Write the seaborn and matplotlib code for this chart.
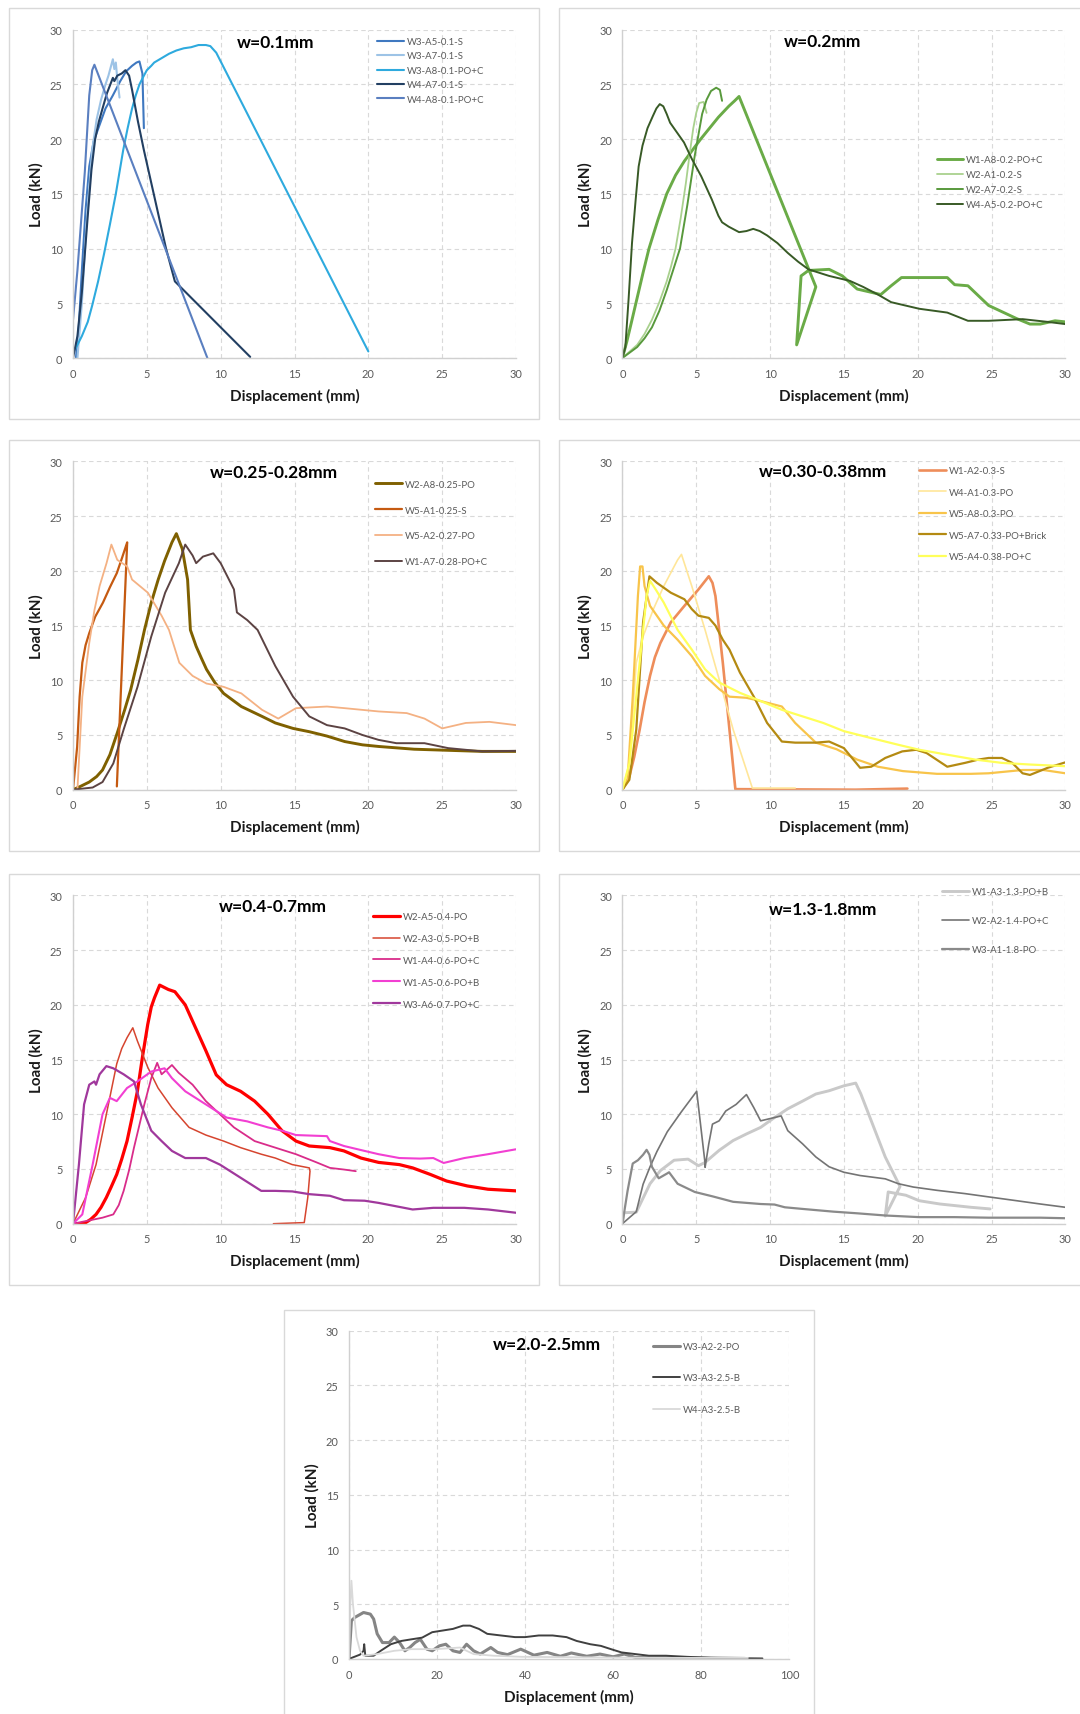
import matplotlib
matplotlib.use("Agg")
import matplotlib.pyplot as plt
from matplotlib.patches import Rectangle
from matplotlib.lines import Line2D
import seaborn as sns

# ---------------- DATA ----------------
# Panel 1: w=0.1mm
p1_w3a5_x = [0.2, 0.4, 0.6, 0.85, 1.1, 1.4, 1.8, 2.2, 2.7, 3.2, 3.6, 4.0, 4.3, 4.5, 4.7, 4.8]
p1_w3a5_y = [0, 3, 8, 13.5, 17.5, 19.8, 21.3, 22.8, 24, 25.3, 26.2, 26.7, 27.0, 27.1, 26, 21]
p1_w3a7_x = [0.3, 0.6, 0.9, 1.3, 1.6, 1.9, 2.2, 2.4, 2.7, 2.8, 2.9, 3.0, 3.15]
p1_w3a7_y = [0, 5, 12, 19, 21.8, 23.6, 25.0, 25.8, 27.3, 26.4, 27.0, 25.5, 23.8]
p1_w3a8_x = [0, 0.3, 0.6, 1.0, 1.3, 1.7, 2.1, 2.5, 2.9, 3.2, 3.4, 3.7, 4.0, 4.25, 4.5, 4.8, 5.0,
             5.3, 5.5, 6.0, 6.5, 7.0, 7.5, 8.0, 8.5, 9.0, 9.3, 9.7, 20.0]
p1_w3a8_y = [0.5, 1.2, 2.0, 3.3, 4.8, 7.0, 9.5, 12.2, 15, 17.4, 19.0, 21.0, 22.8, 24.0, 25, 25.8, 26.3,
             26.7, 27.0, 27.4, 27.8, 28.1, 28.3, 28.4, 28.6, 28.6, 28.5, 27.9, 0.6]
p1_w4a7_x = [0, 0.3, 0.6, 1.0, 1.25, 1.5, 1.75, 2.0, 2.3, 2.7, 2.8, 3.0, 3.3, 3.55, 3.8, 4.0, 4.4,
             4.8, 5.3, 5.8, 6.3, 6.9, 12.0]
p1_w4a7_y = [0, 2, 6, 13, 17.2, 20, 21.6, 22.8, 24.2, 25.6, 25.3, 25.8, 26.0, 26.3, 25.8, 24.5, 21.6,
             19, 16, 13, 10, 7, 0.1]
p1_w4a8_x = [0, 0.3, 0.8, 1.1, 1.3, 1.45, 9.1]
p1_w4a8_y = [3.5, 8, 17, 24, 26.3, 26.8, 0]

# Panel 2: w=0.2mm
p2_w1a8_x = [0, 0.3, 0.6, 1.0, 1.4, 1.8, 2.4, 3.0, 3.6, 4.2, 4.8, 5.3, 5.9, 6.5, 7.2, 7.6, 7.9,
             13.1, 11.8, 12.1, 12.6, 14.0, 14.9, 15.9, 17.5, 18.2, 18.9, 20.1, 22.0, 22.5, 23.4,
             24.8, 26.7, 27.6, 28.3, 29.3, 30]
p2_w1a8_y = [0, 1.5, 3.2, 5.5, 7.8, 10, 12.6, 15, 16.7, 18, 19.1, 20, 21, 22, 23, 23.5, 23.9,
             6.5, 1.2, 7.5, 8, 8.1, 7.5, 6.3, 5.8, 6.6, 7.35, 7.35, 7.35, 6.7, 6.6,
             4.8, 3.6, 3.1, 3.1, 3.4, 3.3]
p2_w2a1_x = [0, 1, 1.5, 2, 2.5, 3, 3.3, 3.6, 3.95, 4.3, 4.55, 4.8, 5.0, 5.2, 5.5, 5.7]
p2_w2a1_y = [0, 1.2, 2.2, 3.5, 5.1, 7, 8.4, 10, 12.8, 16, 18.6, 21, 22.4, 23.3, 23.4, 22.4]
p2_w2a7_x = [0, 1, 1.5, 2, 2.5, 3, 3.5, 3.9, 4.4, 4.9, 5.4, 5.7, 6.0, 6.35, 6.6, 6.75]
p2_w2a7_y = [0, 1, 1.8, 2.8, 4.3, 6.2, 8.3, 10, 14, 18.5, 22.3, 23.6, 24.4, 24.7, 24.5, 23.5]
p2_w4a5_x = [0, 0.2, 0.42, 0.65, 0.9, 1.1, 1.36, 1.7, 2.06, 2.3, 2.53, 2.77, 3.0, 3.23, 3.7, 4.17,
             4.7, 5.34, 6.05, 6.5, 6.75, 7.2, 7.9, 8.4, 8.86, 9.3, 9.8, 10.5, 11.2, 11.9, 12.6,
             14.0, 15.4, 16.3, 17.3, 18.2, 20.1, 22.0, 23.4, 24.8, 27.1, 28.8, 30]
p2_w4a5_y = [0, 1, 5.4, 10.5, 14.5, 17.5, 19.4, 21.0, 22.1, 22.8, 23.2, 23.0, 22.3, 21.5, 20.6, 19.7,
             18.2, 16.6, 14.5, 13.0, 12.4, 12.0, 11.5, 11.6, 11.8, 11.6, 11.2, 10.5, 9.6, 8.8, 8.1,
             7.5, 7.05, 6.5, 5.8, 5.1, 4.5, 4.15, 3.4, 3.4, 3.55, 3.3, 3.1]

# Panel 3: w=0.25-0.28mm
p3_w2a8_x = [0, 0.5, 1.1, 1.6, 2.0, 2.5, 3.0, 3.5, 3.9, 4.4, 4.84, 5.3, 5.77, 6.2, 6.7, 7.0, 7.4,
             7.76, 7.95, 8.34, 8.7, 9.04, 9.6, 10.2, 11.4, 12.8, 13.7, 14.9, 16, 17.2, 18.4, 19.6,
             20.7, 23.1, 25.4, 27.7, 30]
p3_w2a8_y = [0, 0.3, 0.7, 1.2, 1.8, 3.2, 5.2, 7.3, 9.1, 11.9, 14.6, 17.1, 19.2, 20.9, 22.6, 23.4, 22,
             19.2, 14.6, 13.1, 12.0, 11, 9.8, 8.8, 7.6, 6.7, 6.1, 5.6, 5.3, 4.9, 4.4, 4.1,
             3.95, 3.7, 3.6, 3.5, 3.5]
p3_w5a1_x = [0, 0.28, 0.45, 0.63, 0.85, 1.1, 1.5, 2.03, 2.5, 2.97, 3.3, 3.62, 3.67, 2.97]
p3_w5a1_y = [0, 3.9, 8.5, 11.6, 13.2, 14.3, 15.8, 17.1, 18.5, 19.8, 21.1, 22.4, 22.6, 0.3]
p3_w5a2_x = [0.3, 0.63, 1.1, 1.45, 1.8, 2.27, 2.6, 3.0, 3.67, 4.0, 5.07, 6.0, 6.5, 7.2, 8.1, 9.04,
             10.2, 11.4, 12.8, 13.9, 15.1, 17.2, 18.4, 20.7, 22.6, 23.8, 25, 26.6, 28.2, 30]
p3_w5a2_y = [0, 8.5, 13.4, 16.4, 18.6, 20.7, 22.4, 21, 20.4, 19.2, 18, 15.9, 14.6, 11.6, 10.4, 9.7,
             9.4, 8.8, 7.3, 6.5, 7.45, 7.6, 7.45, 7.15, 7, 6.5, 5.6, 6.1, 6.2, 5.9]
p3_w1a7_x = [0, 1.33, 2.0, 2.73, 3.43, 4.37, 5.3, 6.24, 7.17, 7.6, 8.1, 8.34, 8.8, 9.5, 10, 10.9,
             11.1, 11.8, 12.5, 13.7, 14.9, 16, 17.2, 18.4, 19.6, 20.7, 21.9, 23.8, 25.4, 27.7, 30]
p3_w1a7_y = [0, 0.2, 0.7, 2.4, 5.5, 9.4, 14, 18, 20.7, 22.4, 21.4, 20.7, 21.3, 21.6, 20.7, 18.3,
             16.2, 15.5, 14.6, 11.3, 8.5, 6.7, 5.9, 5.6, 5.0, 4.55, 4.25, 4.25, 3.8, 3.5, 3.55]

# Panel 4: w=0.30-0.38mm
p4_w1a2_x = [0, 0.47, 0.8, 1.17, 1.5, 1.87, 2.2, 2.57, 3.28, 4.2, 5.15, 5.85, 6.1, 6.3, 6.8, 7.25,
             7.65, 15.8, 19.3]
p4_w1a2_y = [0, 1.2, 3.0, 5.5, 8.0, 10.4, 12.1, 13.4, 15.3, 16.8, 18.3, 19.5, 18.9, 17.7, 11.6, 5.5,
             0.05, 0.0, 0.1]
p4_w4a1_x = [0, 0.47, 0.94, 1.4, 2.1, 2.8, 3.74, 4.0, 4.7, 5.6, 6.55, 7.5, 8.8, 11.7]
p4_w4a1_y = [0, 2.4, 11.6, 14, 16.5, 18.6, 21, 21.5, 18.6, 14.6, 10.1, 5.5, 0.15, 0.15]
p4_w5a8_x = [0, 0.35, 0.7, 1.05, 1.2, 1.36, 1.5, 1.87, 2.8, 3.74, 4.7, 5.6, 6.55, 7.25, 8.4, 9.36,
             10.8, 11.7, 13.1, 14.5, 15.9, 17.3, 19, 21.3, 23.6, 24.8, 27.1, 28.5, 30]
p4_w5a8_y = [0, 0.9, 8.5, 17.7, 20.4, 20.4, 18.6, 16.8, 15, 13.7, 12.2, 10.4, 9.2, 8.5, 8.4, 8.1,
             7.6, 6.1, 4.3, 3.7, 2.75, 2.1, 1.7, 1.45, 1.45, 1.5, 1.8, 1.8, 1.5]
p4_w5a7_x = [0, 0.47, 0.94, 1.4, 1.83, 2.34, 3.28, 4.2, 4.7, 5.15, 5.85, 6.3, 6.8, 7.25, 7.96, 8.9,
             9.8, 10.8, 11.7, 13.1, 14.0, 15.0, 16.1, 16.85, 17.8, 18.95, 19.9, 20.6, 22.0, 23.2,
             24.1, 24.8, 25.7, 26.4, 27.1, 27.6, 28.8, 30]
p4_w5a7_y = [0, 0.9, 5.5, 15.3, 19.5, 18.9, 18, 17.4, 16.5, 15.9, 15.7, 15, 13.7, 12.8, 10.7, 8.5,
             6.1, 4.4, 4.3, 4.3, 4.4, 3.8, 2.0, 2.1, 2.9, 3.5, 3.65, 3.35, 2.1, 2.45,
             2.75, 2.9, 2.9, 2.45, 1.5, 1.35, 2.0, 2.5]
p4_w5a4_x = [0, 0.47, 1.17, 1.64, 1.87, 2.3, 2.8, 3.74, 4.7, 5.6, 6.55, 7.96, 9.36, 10.8, 12.2, 13.6,
             15, 16.9, 18.7, 20.1, 22, 23.9, 25.7, 27.6, 30]
p4_w5a4_y = [0, 2.4, 11.6, 17.7, 19.1, 18.2, 17.1, 14.6, 12.8, 11, 9.8, 8.85, 8.1, 7.3, 6.7, 6.1,
             5.35, 4.7, 4.1, 3.65, 3.2, 2.75, 2.45, 2.3, 2.15]

# Panel 5: w=0.4-0.7mm
p5_w2a5_x = [0, 0.5, 0.86, 1.2, 1.56, 1.9, 2.26, 2.6, 2.96, 3.3, 3.66, 4.0, 4.36, 4.7, 5.06, 5.3,
             5.52, 5.87, 6.46, 6.9, 7.6, 8.1, 9.0, 9.7, 10.4, 11.35, 12.3, 13.2, 14.15, 15.1, 16,
             17.4, 18.35, 19.5, 20.7, 22.1, 23, 24.2, 25.3, 26.7, 28.1, 30]
p5_w2a5_y = [0, 0, 0.1, 0.4, 0.85, 1.5, 2.4, 3.4, 4.5, 5.9, 7.55, 9.7, 12.1, 15.2, 18.2, 19.8,
             20.65, 21.8, 21.4, 21.2, 20, 18.5, 15.8, 13.6, 12.7, 12.1, 11.2, 10, 8.5, 7.55, 7.1,
             6.95, 6.65, 6.0, 5.6, 5.4, 5.1, 4.5, 3.9, 3.45, 3.15, 3.0]
p5_w2a3_x = [0, 0.86, 1.56, 2.26, 2.96, 3.3, 3.66, 4.05, 4.36, 5.06, 5.76, 6.7, 7.86, 9.0, 10.2,
             11.35, 12.75, 13.7, 14.85, 16.0, 16.05, 15.9, 15.66, 13.57]
p5_w2a3_y = [0, 2.4, 5.4, 10, 14.6, 16.0, 17, 17.9, 16.7, 14.3, 12.4, 10.6, 8.8, 8.1, 7.55,
             6.95, 6.35, 6.0, 5.4, 5.1, 4.8, 2.4, 0.1, 0]
p5_w1a4_x = [0, 2.0, 2.73, 3.1, 3.43, 3.8, 4.13, 4.83, 5.3, 5.7, 6.0, 6.46, 6.7, 7.15, 8.1, 9.0, 9.95,
             10.9, 12.3, 13.7, 15.1, 16.5, 17.4, 18.35, 19.15]
p5_w1a4_y = [0, 0.55, 0.85, 1.7, 3.0, 4.9, 6.95, 10.9, 13.3, 14.7, 13.65, 14.2, 14.5, 13.8, 12.7, 11.2,
             10, 8.8, 7.55, 6.95, 6.35, 5.6, 5.1, 4.95, 4.8]
p5_w1a5_x = [0, 0.63, 1.33, 2.0, 2.5, 2.96, 3.66, 4.36, 5.3, 6.2, 6.7, 7.6, 9.0, 10.4, 11.8, 13.2,
             14.15, 15.1, 17.2, 17.4, 18.35, 19.75, 20.7, 22.1, 23.5, 24.4, 25.1, 26.5, 28.1, 30]
p5_w1a5_y = [0, 0.85, 5.4, 10, 11.5, 11.2, 12.4, 13, 13.9, 14.2, 13.3, 12.1, 10.9, 9.7, 9.35, 8.8,
             8.5, 8.1, 8.0, 7.55, 7.1, 6.65, 6.35, 6.0, 5.95, 6.0, 5.55, 6.0, 6.35, 6.8]
p5_w3a6_x = [0, 0.4, 0.75, 1.1, 1.45, 1.56, 1.8, 2.26, 2.73, 3.43, 4.13, 4.6, 5.3, 6.0, 6.7, 7.6,
             9.0, 9.95, 11.35, 12.75, 13.7, 14.85, 16.0, 17.4, 18.35, 19.75, 20.7, 21.85, 23, 24.4,
             26.5, 28.1, 30]
p5_w3a6_y = [0, 5.4, 10.9, 12.7, 13, 12.7, 13.65, 14.4, 14.2, 13.65, 13, 10.9, 8.5, 7.55, 6.65, 6.0,
             6.0, 5.4, 4.2, 3.0, 3.0, 2.95, 2.7, 2.55, 2.15, 2.1, 1.9, 1.6, 1.3, 1.45,
             1.45, 1.3, 1.0]

# Panel 6: w=1.3-1.8mm
p6_w1a3_x = [0, 0.1, 0.94, 1.87, 2.57, 3.5, 4.45, 5.15, 5.6, 6.55, 7.5, 8.4, 9.36, 10.3, 11.2, 12.2,
             13.1, 14, 15, 15.8, 16.15, 17.8, 18.8, 17.8, 18.0, 19.2, 20.1, 21.5, 23.6, 24.9]
p6_w1a3_y = [0, 1.0, 1.05, 3.65, 4.85, 5.8, 5.9, 5.3, 5.6, 6.7, 7.6, 8.2, 8.8, 9.7, 10.5, 11.2,
             11.85, 12.15, 12.6, 12.85, 11.85, 6.1, 3.4, 0.7, 2.9, 2.6, 2.1, 1.8, 1.5, 1.35]
p6_w2a2_x = [0, 0.94, 1.4, 1.87, 2.34, 3.04, 3.98, 5.03, 5.6, 5.6, 5.85, 6.1, 6.55, 7.0, 7.7, 8.4,
             8.9, 9.36, 10.3, 10.75, 11.2, 12.2, 13.1, 14, 15, 16.1, 17.8, 18.7, 19.7, 21.3, 23.2,
             24.8, 26.7, 28.3, 30]
p6_w2a2_y = [0, 1.1, 3.6, 5.2, 6.6, 8.4, 10.2, 12.1, 5.5, 5.15, 7.3, 9.1, 9.4, 10.3, 10.9, 11.8,
             10.6, 9.4, 9.7, 9.85, 8.5, 7.3, 6.1, 5.2, 4.7, 4.4, 4.1, 3.65, 3.35, 3.05, 2.75,
             2.45, 2.1, 1.8, 1.5]
p6_w3a1_x = [0, 0.35, 0.7, 1.05, 1.4, 1.64, 1.83, 2.0, 2.46, 3.04, 3.16, 3.74, 4.9, 6.1, 7.5, 9.36,
             10.3, 11.0, 12.2, 14.3, 15.9, 17.8, 20.1, 22.5, 24.8, 28.3, 30]
p6_w3a1_y = [0, 3.0, 5.5, 5.8, 6.3, 6.75, 6.3, 5.2, 4.15, 4.6, 4.7, 3.65, 2.9, 2.5, 2.0, 1.8,
             1.75, 1.5, 1.35, 1.1, 0.95, 0.75, 0.6, 0.6, 0.55, 0.55, 0.5]

# Panel 7: w=2.0-2.5mm
p7_w3a2_x = [0, 0.55, 1.33, 3.3, 4.85, 5.6, 6.4, 7.6, 9.1, 10.3, 11.5, 12.7, 13.8, 15, 16.2, 17.7,
             18.9, 20.5, 22, 23.6, 25.2, 26.7, 28.3, 29.8, 32.2, 33.75, 36, 39, 42, 45, 48, 50.5,
             54, 57, 60, 62.5, 65, 70, 80, 90]
p7_w3a2_y = [0, 3.5, 3.8, 4.25, 4.1, 3.65, 2.3, 1.5, 1.5, 2.0, 1.5, 0.75, 1.05, 1.5, 1.8, 0.9,
             0.75, 1.2, 1.35, 0.75, 0.6, 1.35, 0.75, 0.45, 1.05, 0.6, 0.4, 0.9, 0.35, 0.6, 0.25, 0.55,
             0.25, 0.45, 0.2, 0.45, 0.15, 0.1, 0.1, 0.05]
p7_w3a3_x = [0, 0.9, 2.5, 3.3, 3.45, 3.7, 5.6, 7.2, 9.5, 11.9, 14.2, 16.6, 18.9, 21.25, 23.6, 25.9,
             27.5, 29.5, 31.4, 34.5, 37.7, 40, 43.1, 46.25, 49.4, 51.7, 54.8, 57.2, 59.5, 61.9, 65,
             68.1, 72, 76.7, 82.2, 93.9]
p7_w3a3_y = [0, 0.15, 0.4, 0.75, 1.35, 0.3, 0.3, 0.75, 1.35, 1.65, 1.8, 1.95, 2.45, 2.6, 2.75, 3.05,
             3.05, 2.75, 2.3, 2.15, 2.0, 2.0, 2.15, 2.15, 2.0, 1.65, 1.35, 1.2, 0.9, 0.6, 0.45,
             0.3, 0.3, 0.2, 0.1, 0.05]
p7_w4a3_x = [0, 0.3, 0.55, 0.9, 1.7, 2.5, 3.3, 6.4, 10.3, 14.2, 19.7, 25.2, 26.7, 28.3, 32.8, 39.2,
             54.8, 70.3, 90.6]
p7_w4a3_y = [0, 5.0, 7.15, 5.0, 2.0, 0.75, 0.3, 0.45, 0.75, 0.9, 0.9, 1.05, 0.75, 0.45, 0.3, 0.2,
             0.15, 0.1, 0.1]

titles = ["w=0.1mm", "w=0.2mm", "w=0.25-0.28mm", "w=0.30-0.38mm",
          "w=0.4-0.7mm", "w=1.3-1.8mm", "w=2.0-2.5mm"]
x_ticks_std = [0, 5, 10, 15, 20, 25, 30]
x_ticks_last = [0, 20, 40, 60, 80, 100]
y_ticks = [0, 5, 10, 15, 20, 25, 30]

# ---------------- STYLE / LAYOUT ----------------
sns.set_theme(style="white")
plt.rcParams["font.family"] = ["Lato", "DejaVu Sans"]

W, H = 1080, 1715
fig = plt.figure(figsize=(W / 100, H / 100), dpi=100)
fig.patch.set_facecolor("white")

TXT = "#595959"

# (label, x, y, color, linewidth)
series = [
    [("W3-A5-0.1-S", p1_w3a5_x, p1_w3a5_y, "#3f78c0", 1.5),
     ("W3-A7-0.1-S", p1_w3a7_x, p1_w3a7_y, "#9dc3e6", 1.5),
     ("W3-A8-0.1-PO+C", p1_w3a8_x, p1_w3a8_y, "#2eaade", 1.5),
     ("W4-A7-0.1-S", p1_w4a7_x, p1_w4a7_y, "#223f62", 1.5),
     ("W4-A8-0.1-PO+C", p1_w4a8_x, p1_w4a8_y, "#5a7fc0", 1.5)],
    [("W1-A8-0.2-PO+C", p2_w1a8_x, p2_w1a8_y, "#6aab47", 2.1),
     ("W2-A1-0.2-S", p2_w2a1_x, p2_w2a1_y, "#a9d18e", 1.3),
     ("W2-A7-0.2-S", p2_w2a7_x, p2_w2a7_y, "#58993c", 1.4),
     ("W4-A5-0.2-PO+C", p2_w4a5_x, p2_w4a5_y, "#385a26", 1.4)],
    [("W2-A8-0.25-PO", p3_w2a8_x, p3_w2a8_y, "#7f6000", 2.1),
     ("W5-A1-0.25-S", p3_w5a1_x, p3_w5a1_y, "#c55a11", 1.6),
     ("W5-A2-0.27-PO", p3_w5a2_x, p3_w5a2_y, "#f4b183", 1.3),
     ("W1-A7-0.28-PO+C", p3_w1a7_x, p3_w1a7_y, "#5c4343", 1.4)],
    [("W1-A2-0.3-S", p4_w1a2_x, p4_w1a2_y, "#ee8d5a", 1.9),
     ("W4-A1-0.3-PO", p4_w4a1_x, p4_w4a1_y, "#ffe699", 1.2),
     ("W5-A8-0.3-PO", p4_w5a8_x, p4_w5a8_y, "#f8c44a", 1.6),
     ("W5-A7-0.33-PO+Brick", p4_w5a7_x, p4_w5a7_y, "#b48a12", 1.6),
     ("W5-A4-0.38-PO+C", p4_w5a4_x, p4_w5a4_y, "#ffff5a", 1.6)],
    [("W2-A5-0.4-PO", p5_w2a5_x, p5_w2a5_y, "#ff0000", 2.3),
     ("W2-A3-0.5-PO+B", p5_w2a3_x, p5_w2a3_y, "#d6452f", 1.1),
     ("W1-A4-0.6-PO+C", p5_w1a4_x, p5_w1a4_y, "#d92c8a", 1.3),
     ("W1-A5-0.6-PO+B", p5_w1a5_x, p5_w1a5_y, "#f23fd2", 1.5),
     ("W3-A6-0.7-PO+C", p5_w3a6_x, p5_w3a6_y, "#a0389c", 1.6)],
    [("W1-A3-1.3-PO+B", p6_w1a3_x, p6_w1a3_y, "#c9c9c9", 2.1),
     ("W2-A2-1.4-PO+C", p6_w2a2_x, p6_w2a2_y, "#747474", 1.2),
     ("W3-A1-1.8-PO", p6_w3a1_x, p6_w3a1_y, "#8a8a8a", 1.6)],
    [("W3-A2-2-PO", p7_w3a2_x, p7_w3a2_y, "#858585", 2.2),
     ("W3-A3-2.5-B", p7_w3a3_x, p7_w3a3_y, "#404040", 1.4),
     ("W4-A3-2.5-B", p7_w4a3_x, p7_w4a3_y, "#d9d9d9", 1.3)],
]

# panel layout in pixels: axes (l, t, r, b), border (l, t, r, b),
# legend (handle_left_x, first_row_center_y, row_pitch), title (x frac, y frac)
layout = [
    dict(ax=(73, 30.7, 516, 359), box=(9.3, 9.3, 539.3, 420), leg=(377, 41.7, 14.3), tt=(0.458, 0.962)),
    dict(ax=(622.4, 30.7, 1065.4, 359), box=(558.7, 9.3, 1088.7, 420), leg=(936.6, 160, 14.8), tt=(0.452, 0.966)),
    dict(ax=(73, 462.4, 516, 790.7), box=(9.3, 441, 539.3, 851.7), leg=(375, 484.3, 25.8), tt=(0.454, 0.967)),
    dict(ax=(622.4, 462.4, 1065.4, 790.7), box=(558.7, 441, 1088.7, 851.7), leg=(919.3, 471, 21.3), tt=(0.452, 0.972)),
    dict(ax=(73, 896.4, 516, 1224.7), box=(9.3, 875.4, 539.3, 1286), leg=(373, 916.7, 21.75), tt=(0.450, 0.969)),
    dict(ax=(622.4, 896.4, 1065.4, 1224.7), box=(558.7, 875.4, 1088.7, 1286), leg=(942.4, 891.7, 29), tt=(0.452, 0.959)),
    dict(ax=(349, 1331.7, 789.3, 1660), box=(284.3, 1310.7, 814.3, 1721), leg=(653.4, 1346.7, 31.3), tt=(0.450, 0.959)),
]

LEG_PT = 6.9
LEG_PX = LEG_PT * 100 / 72
ROW_H = LEG_PX * 1.0 - 0.7

for i, (lay, ser) in enumerate(zip(layout, series)):
    bl, bt, br, bb = lay["box"]
    fig.add_artist(Rectangle((bl / W, 1 - bb / H), (br - bl) / W, (bb - bt) / H,
                             transform=fig.transFigure, fill=False, ec="#d9d9d9", lw=1.0))
    l, t, r, b = lay["ax"]
    ax = fig.add_axes([l / W, 1 - b / H, (r - l) / W, (b - t) / H])
    ax.set_facecolor("white")
    for lab, xs, ys, col, lw in ser:
        sns.lineplot(x=xs, y=ys, ax=ax, color=col, linewidth=lw, sort=False,
                     estimator=None, legend=False)
    last = (i == 6)
    xt = x_ticks_last if last else x_ticks_std
    ax.set_xlim(xt[0], xt[-1])
    ax.set_ylim(0, 30)
    ax.set_xticks(xt)
    ax.set_yticks(y_ticks)
    ax.grid(True, color="#d9d9d9", linestyle=(0, (4, 3)), linewidth=0.8)
    ax.set_axisbelow(True)
    for s in ("top", "right"):
        ax.spines[s].set_visible(False)
    for s in ("left", "bottom"):
        ax.spines[s].set_visible(True)
        ax.spines[s].set_color("#d0d0d0")
        ax.spines[s].set_linewidth(1.0)
    ax.tick_params(axis="both", length=0, labelsize=7.9, labelcolor=TXT)
    ax.tick_params(axis="x", pad=7.0)
    ax.tick_params(axis="y", pad=7.5)
    ax.set_xlabel("Displacement (mm)", fontsize=10.9, fontweight="bold", color="#1a1a1a")
    ax.set_ylabel("Load (kN)", fontsize=10.9, fontweight="bold", color="#1a1a1a")
    axw, axh = r - l, b - t
    ax.xaxis.set_label_coords(0.5, -37 / axh)
    ax.yaxis.set_label_coords(-37 / axw, 0.5)
    ax.xaxis.label.set_va("center")
    ax.yaxis.label.set_va("center")
    ax.text(lay["tt"][0], lay["tt"][1], titles[i], transform=ax.transAxes,
            ha="center", va="center", fontsize=12.5, fontweight="bold", color="black")

    hx, y1, pitch = lay["leg"]
    handles = [Line2D([], [], color=col, lw=lw) for lab, xs, ys, col, lw in ser]
    labels = [lab for lab, xs, ys, col, lw in ser]
    top_y = y1 - ROW_H / 2 + 0.8
    ax.legend(handles, labels, loc="upper left",
              bbox_to_anchor=(hx / W, 1 - top_y / H), bbox_transform=fig.transFigure,
              frameon=False, fontsize=LEG_PT, borderpad=0, borderaxespad=0,
              handlelength=26.5 / LEG_PX, handletextpad=3 / LEG_PX,
              labelspacing=max(pitch - ROW_H, 0) / LEG_PX, labelcolor=TXT)

fig.savefig("out.png", dpi=100, facecolor="white")
